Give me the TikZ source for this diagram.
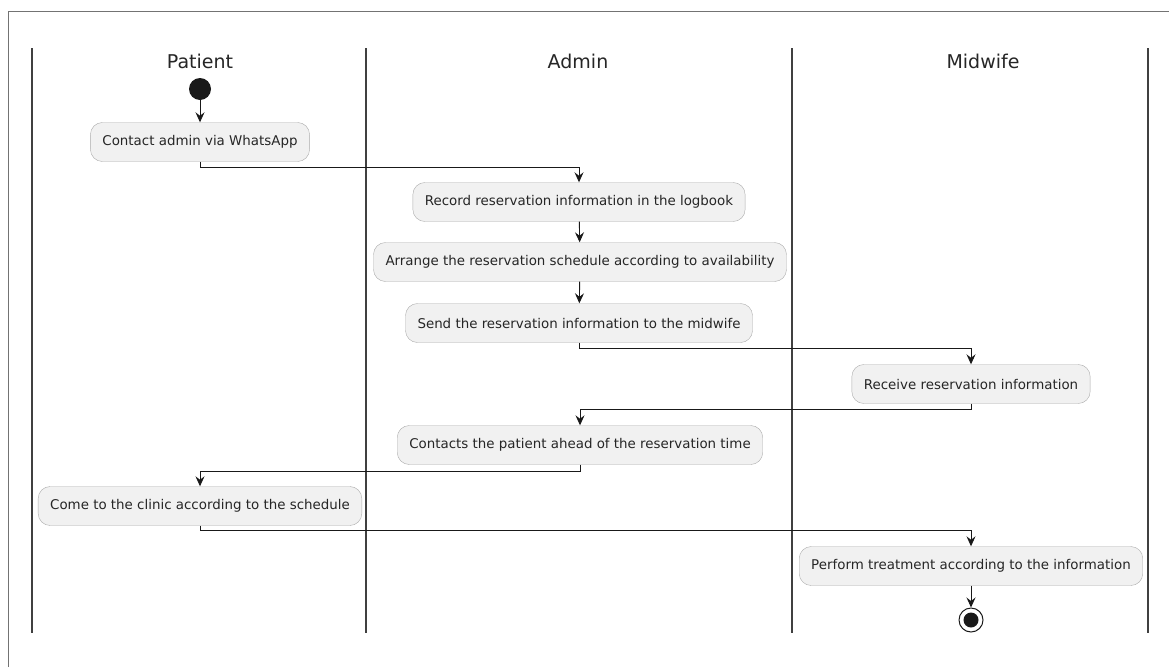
\documentclass[tikz,border=0pt]{standalone}
\usepackage{fontspec}
\setmainfont{DejaVu Sans}
\usetikzlibrary{arrows.meta}
\definecolor{actfill}{HTML}{F1F1F1}
\definecolor{actline}{HTML}{ABABAB}

\begin{document}
\begin{tikzpicture}[x=1pt,y=-1pt,
    action/.style={draw=actline, fill=actfill, rounded corners=12pt, minimum height=39pt,
        inner xsep=12pt, font=\fontsize{13.4}{15}\selectfont, text=black!85},
    lane/.style={font=\fontsize{19}{22}\selectfont, text=black!85},
    flow/.style={-{Stealth[length=10pt,width=9pt,inset=3.5pt]}, black!90, line width=0.9pt}]
    \useasboundingbox (0,0) rectangle (1169,667);
    % frame and swimlanes
    \draw[black!55, line width=1pt] (8.5,667) -- (8.5,11) -- (1169,11);
    \foreach \x in {32,366,792,1148}
        \draw[black!75, line width=1.4pt] (\x,48) -- (\x,633);
    \node[lane] (patient) at (200,61) {Patient};
    \node[lane] (admin) at (578,61) {Admin};
    \node[lane] (midwife) at (983,61) {Midwife};

    \node[circle, fill=black!90, minimum size=22pt, inner sep=0pt] (start) at (200,89) {};
    \node[action] (contact) at (200,142) {Contact admin via WhatsApp};
    \node[action] (record) at (579,202) {Record reservation information in the logbook};
    \node[action] (arrange) at (580,262) {Arrange the reservation schedule according to availability};
    \node[action] (send) at (579,323) {Send the reservation information to the midwife};
    \node[action] (receive) at (971,384) {Receive reservation information};
    \node[action] (contacts) at (580,445) {Contacts the patient ahead of the reservation time};
    \node[action] (come) at (200,506) {Come to the clinic according to the schedule};
    \node[action] (perform) at (971,566) {Perform treatment according to the information};
    \node[circle, draw=black!90, line width=1pt, minimum size=24pt, inner sep=0pt] (stop) at (971,620) {};
    \node[circle, fill=black!90, minimum size=15pt, inner sep=0pt] (stopdot) at (stop) {};

    \draw[flow] (start) -- (contact);
    \draw[flow] (contact.south) -- ++(0,6) -| (record.north);
    \draw[flow] (record) -- (arrange);
    \draw[flow] (arrange) -- (send);
    \draw[flow] (send.south) -- ++(0,6) -| (receive.north);
    \draw[flow] (receive.south) -- ++(0,6) -| (contacts.north);
    \draw[flow] (contacts.south) -- ++(0,7) -| (come.north);
    \draw[flow] (come.south) -- ++(0,5) -| (perform.north);
    \draw[flow] (perform) -- (stop);
\end{tikzpicture}
\end{document}
